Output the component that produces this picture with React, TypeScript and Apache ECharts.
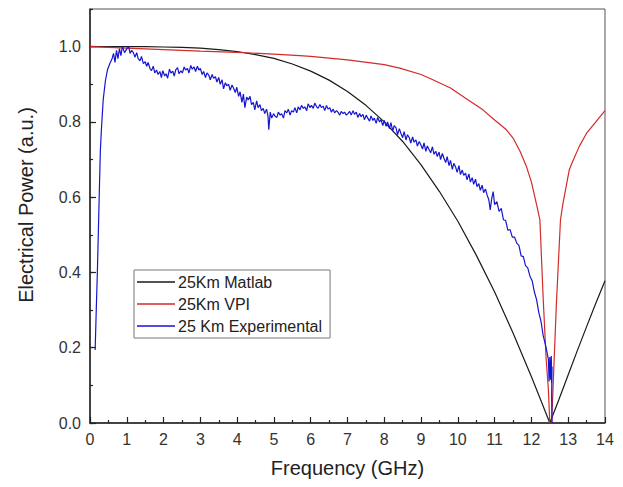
import React, { useEffect, useRef } from "react";
import * as echarts from "echarts";

const xTicks = [0, 1, 2, 3, 4, 5, 6, 7, 8, 9, 10, 11, 12, 13, 14];
const yTicks = [0.0, 0.2, 0.4, 0.6, 0.8, 1.0];
const seriesNames = ["25Km Matlab", "25Km VPI", "25 Km Experimental"];
const yTitle = "Electrical Power (a.u.)";

const matlabData: [number, number][] = [
  [0, 1.0], [0.5, 1.0], [1, 1.0], [1.5, 1.0], [2, 0.999], [2.5, 0.998], [3, 0.996],
  [3.5, 0.992], [4, 0.987], [4.5, 0.979], [5, 0.969], [5.5, 0.954], [6, 0.935],
  [6.5, 0.911], [7, 0.881], [7.5, 0.844], [8, 0.8], [8.5, 0.748], [9, 0.686],
  [9.5, 0.615], [10, 0.536], [10.5, 0.446], [11, 0.348], [11.5, 0.239], [12, 0.123],
  [12.25, 0.062], [12.5, 0.0], [12.75, 0.063], [13, 0.128], [13.25, 0.193],
  [13.5, 0.256], [13.75, 0.318], [14, 0.378],
];

const vpiData: [number, number][] = [
  [0, 1.0], [1, 0.996], [2, 0.992], [3, 0.988], [4, 0.985], [5, 0.98], [5.7, 0.976],
  [6, 0.974], [7, 0.965], [8, 0.952], [8.42, 0.943], [9, 0.926], [9.32, 0.912],
  [9.8, 0.89], [10.24, 0.861], [10.68, 0.832], [11, 0.805], [11.32, 0.779],
  [11.5, 0.757], [11.7, 0.72], [11.87, 0.68], [12.0, 0.64], [12.14, 0.58],
  [12.23, 0.54], [12.32, 0.33], [12.4, 0.17], [12.46, 0.09], [12.5, 0.0],
  [12.55, 0.0], [12.59, 0.1], [12.68, 0.32], [12.79, 0.54], [12.86, 0.585],
  [13.03, 0.673], [13.1, 0.69], [13.3, 0.735], [13.5, 0.77], [13.75, 0.8], [14, 0.83],
];

const experimentalData: [number, number][] = [
  [0.14, 0.194], [0.17, 0.3], [0.2, 0.4], [0.23, 0.52], [0.25, 0.6], [0.28, 0.72],
  [0.31, 0.78], [0.36, 0.86], [0.42, 0.91], [0.48, 0.94], [0.54, 0.955], [0.6, 0.968],
  [0.64, 0.982], [0.68, 0.958], [0.72, 0.99], [0.76, 0.968], [0.8, 0.995], [0.84, 0.976],
  [0.88, 1.0], [0.94, 0.984],
  [1.0, 0.994], [1.05, 1.0], [1.09, 0.982], [1.13, 0.99], [1.18, 0.984], [1.22, 0.972],
  [1.27, 0.984], [1.31, 0.968], [1.36, 0.962], [1.4, 0.974], [1.45, 0.955], [1.5, 0.96],
  [1.54, 0.948], [1.58, 0.958], [1.63, 0.942], [1.67, 0.936], [1.72, 0.948], [1.76, 0.93],
  [1.81, 0.938], [1.85, 0.926], [1.9, 0.934], [1.94, 0.918], [1.98, 0.936], [2.03, 0.922],
  [2.07, 0.928], [2.11, 0.916], [2.16, 0.94], [2.2, 0.93], [2.25, 0.935], [2.29, 0.922],
  [2.33, 0.938], [2.38, 0.944], [2.42, 0.928], [2.47, 0.936], [2.51, 0.93], [2.56, 0.946],
  [2.6, 0.938], [2.65, 0.942], [2.69, 0.93], [2.74, 0.95], [2.78, 0.94], [2.83, 0.946],
  [2.87, 0.934], [2.92, 0.948], [2.96, 0.938], [3.0, 0.942], [3.05, 0.926], [3.09, 0.934],
  [3.14, 0.918], [3.18, 0.93], [3.23, 0.924], [3.27, 0.912], [3.32, 0.926], [3.36, 0.916],
  [3.41, 0.92], [3.45, 0.906], [3.5, 0.918], [3.54, 0.9], [3.59, 0.912], [3.63, 0.888],
  [3.68, 0.904], [3.72, 0.896], [3.77, 0.9], [3.81, 0.884], [3.86, 0.898], [3.9, 0.89],
  [3.95, 0.878], [3.99, 0.892], [4.04, 0.868], [4.08, 0.88], [4.13, 0.852], [4.17, 0.874],
  [4.21, 0.838], [4.26, 0.866], [4.3, 0.858], [4.35, 0.868], [4.39, 0.846], [4.44, 0.852],
  [4.48, 0.832], [4.53, 0.856], [4.57, 0.838], [4.62, 0.846], [4.66, 0.83], [4.71, 0.836],
  [4.75, 0.822], [4.8, 0.834], [4.84, 0.814], [4.86, 0.779], [4.9, 0.826],
  [4.94, 0.81], [4.99, 0.822], [5.03, 0.815], [5.08, 0.812], [5.12, 0.826], [5.17, 0.818],
  [5.21, 0.822], [5.26, 0.81], [5.3, 0.83], [5.35, 0.824], [5.39, 0.834], [5.44, 0.818],
  [5.48, 0.83], [5.53, 0.826], [5.57, 0.838], [5.62, 0.824], [5.66, 0.84], [5.71, 0.832],
  [5.75, 0.844], [5.8, 0.836], [5.84, 0.84], [5.89, 0.83], [5.93, 0.848], [5.98, 0.838],
  [6.02, 0.844], [6.07, 0.836], [6.11, 0.85], [6.16, 0.84], [6.2, 0.836], [6.25, 0.846],
  [6.29, 0.838], [6.34, 0.842], [6.38, 0.83], [6.43, 0.844], [6.47, 0.834], [6.52, 0.838],
  [6.56, 0.826], [6.61, 0.834], [6.65, 0.824], [6.7, 0.83], [6.74, 0.826], [6.79, 0.818],
  [6.83, 0.828], [6.88, 0.822], [6.92, 0.826], [6.97, 0.818], [7.01, 0.822], [7.06, 0.828],
  [7.1, 0.818], [7.15, 0.83], [7.19, 0.82], [7.24, 0.826], [7.28, 0.812], [7.33, 0.822],
  [7.37, 0.814], [7.42, 0.82], [7.46, 0.806], [7.51, 0.818], [7.55, 0.81], [7.6, 0.802],
  [7.64, 0.816], [7.69, 0.804], [7.73, 0.81], [7.78, 0.796], [7.82, 0.812], [7.87, 0.8],
  [7.91, 0.806], [7.96, 0.79], [8.0, 0.804],
  [8.05, 0.788], [8.09, 0.8], [8.14, 0.782], [8.18, 0.798], [8.23, 0.776], [8.27, 0.79],
  [8.32, 0.784], [8.36, 0.766], [8.41, 0.782], [8.45, 0.77], [8.5, 0.758], [8.54, 0.774],
  [8.59, 0.752], [8.63, 0.766], [8.68, 0.758], [8.72, 0.744], [8.77, 0.76], [8.81, 0.746],
  [8.86, 0.752], [8.9, 0.736], [8.95, 0.748], [8.99, 0.74], [9.04, 0.728], [9.08, 0.744],
  [9.13, 0.722], [9.17, 0.736], [9.22, 0.726], [9.26, 0.718], [9.31, 0.734], [9.35, 0.714],
  [9.4, 0.722], [9.44, 0.708], [9.49, 0.72], [9.53, 0.7], [9.58, 0.716], [9.62, 0.704],
  [9.67, 0.692], [9.71, 0.708], [9.76, 0.684], [9.8, 0.698], [9.85, 0.674], [9.89, 0.69],
  [9.94, 0.68], [9.98, 0.666], [10.03, 0.684], [10.07, 0.66], [10.12, 0.672], [10.16, 0.658],
  [10.21, 0.664], [10.25, 0.646], [10.3, 0.662], [10.34, 0.64], [10.39, 0.652], [10.43, 0.634],
  [10.48, 0.648], [10.52, 0.628], [10.57, 0.636], [10.61, 0.618], [10.66, 0.632], [10.7, 0.612],
  [10.75, 0.622], [10.8, 0.604], [10.84, 0.594],
  [10.88, 0.566], [10.92, 0.596], [10.96, 0.615], [11.0, 0.58], [11.06, 0.588], [11.12, 0.562],
  [11.18, 0.57], [11.24, 0.54], [11.3, 0.538], [11.36, 0.512], [11.42, 0.514], [11.48, 0.494],
  [11.54, 0.494], [11.6, 0.478], [11.66, 0.472], [11.72, 0.444], [11.78, 0.442], [11.84, 0.418],
  [11.9, 0.412], [11.96, 0.39], [12.02, 0.378], [12.08, 0.348], [12.14, 0.328], [12.2, 0.294],
  [12.26, 0.27], [12.32, 0.232], [12.38, 0.208], [12.43, 0.185], [12.46, 0.17], [12.48, 0.11],
  [12.5, 0.175], [12.52, 0.115], [12.54, 0.178], [12.55, 0.105], [12.56, 0.15], [12.55, 0.07],
  [12.56, 0.0],
];

const FONT = "'Liberation Sans', Arial, sans-serif";

export default function App() {
  const ref = useRef<HTMLDivElement>(null);
  useEffect(() => {
    if (!ref.current) return;
    const chart = echarts.init(ref.current, undefined, { renderer: "svg" });
    const lineCommon = { type: "line", symbol: "none", showSymbol: false, smooth: false, z: 3 };
    chart.setOption({
      animation: false,
      backgroundColor: "#ffffff",
      textStyle: { fontFamily: FONT },
      grid: {
        left: 90, top: 9, right: 18, bottom: 64,
        show: true, borderColor: "#555", borderWidth: 1, backgroundColor: "transparent",
      },
      graphic: [{
        type: "text",
        x: 26, y: 205,
        rotation: Math.PI / 2,
        style: {
          text: yTitle, fontFamily: FONT, fontSize: 20, fill: "#222",
          align: "center", verticalAlign: "middle",
        },
      }],
      legend: {
        orient: "vertical",
        left: 134, top: 270,
        width: 198,
        padding: [4, 8, 4, 3],
        itemWidth: 38, itemHeight: 14, itemGap: 6,
        borderColor: "#777", borderWidth: 1, borderRadius: 0,
        backgroundColor: "#fff",
        textStyle: { fontFamily: FONT, fontSize: 16, color: "#222", padding: [0, 0, 0, -2] },
        data: seriesNames.map((n) => ({ name: n, icon: "path://M0,0 L38,0 L38,1.3 L0,1.3 Z" })),
        selectedMode: false,
      },
      xAxis: [{
        type: "value", min: xTicks[0], max: xTicks[xTicks.length - 1], interval: 1,
        name: "Frequency (GHz)", nameLocation: "middle", nameGap: 35,
        nameTextStyle: { fontFamily: FONT, fontSize: 20, color: "#222" },
        axisLine: { show: true, onZero: false, lineStyle: { color: "#222", width: 1.5 } },
        axisTick: { show: true, inside: true, length: 6, lineStyle: { color: "#222", width: 1.2 } },
        minorTick: { show: true, splitNumber: 2, length: 3, lineStyle: { color: "#222", width: 1.2 } },
        axisLabel: { fontFamily: FONT, fontSize: 16, color: "#333", margin: 8 },
        splitLine: { show: false },
      }],
      yAxis: [{
        type: "value", min: 0, max: 1.1, interval: 0.2,
        axisLine: { show: true, onZero: false, lineStyle: { color: "#222", width: 1.5 } },
        axisTick: { show: true, inside: true, length: 6, lineStyle: { color: "#222", width: 1.2 } },
        axisLabel: {
          fontFamily: FONT, fontSize: 16, color: "#333", margin: 9, showMaxLabel: false,
          formatter: (v: number) => {
            const hit = yTicks.find((t) => Math.abs(t - v) < 1e-6);
            return hit === undefined ? "" : hit.toFixed(1);
          },
        },
        splitLine: { show: false },
      }, {
        type: "value", min: 0, max: 1.1, interval: 0.1, position: "left",
        axisLine: { show: false },
        axisTick: { show: true, inside: true, length: 3, lineStyle: { color: "#222", width: 1.2 } },
        axisLabel: { show: false },
        splitLine: { show: false },
      }],
      series: [
        { ...lineCommon, name: seriesNames[0], data: matlabData, lineStyle: { color: "#1a1a1a", width: 1.2 }, itemStyle: { color: "#1a1a1a" } },
        { ...lineCommon, name: seriesNames[1], data: vpiData, lineStyle: { color: "#d42a2a", width: 1.2 }, itemStyle: { color: "#d42a2a" } },
        { ...lineCommon, name: seriesNames[2], data: experimentalData, lineStyle: { color: "#1515d0", width: 1.2 }, itemStyle: { color: "#1515d0" } },
      ],
    });
    return () => chart.dispose();
  }, []);
  return (
    <div
      ref={ref}
      style={{ position: "fixed", left: 0, top: 0, width: 623, height: 487, background: "#fff" }}
    />
  );
}
